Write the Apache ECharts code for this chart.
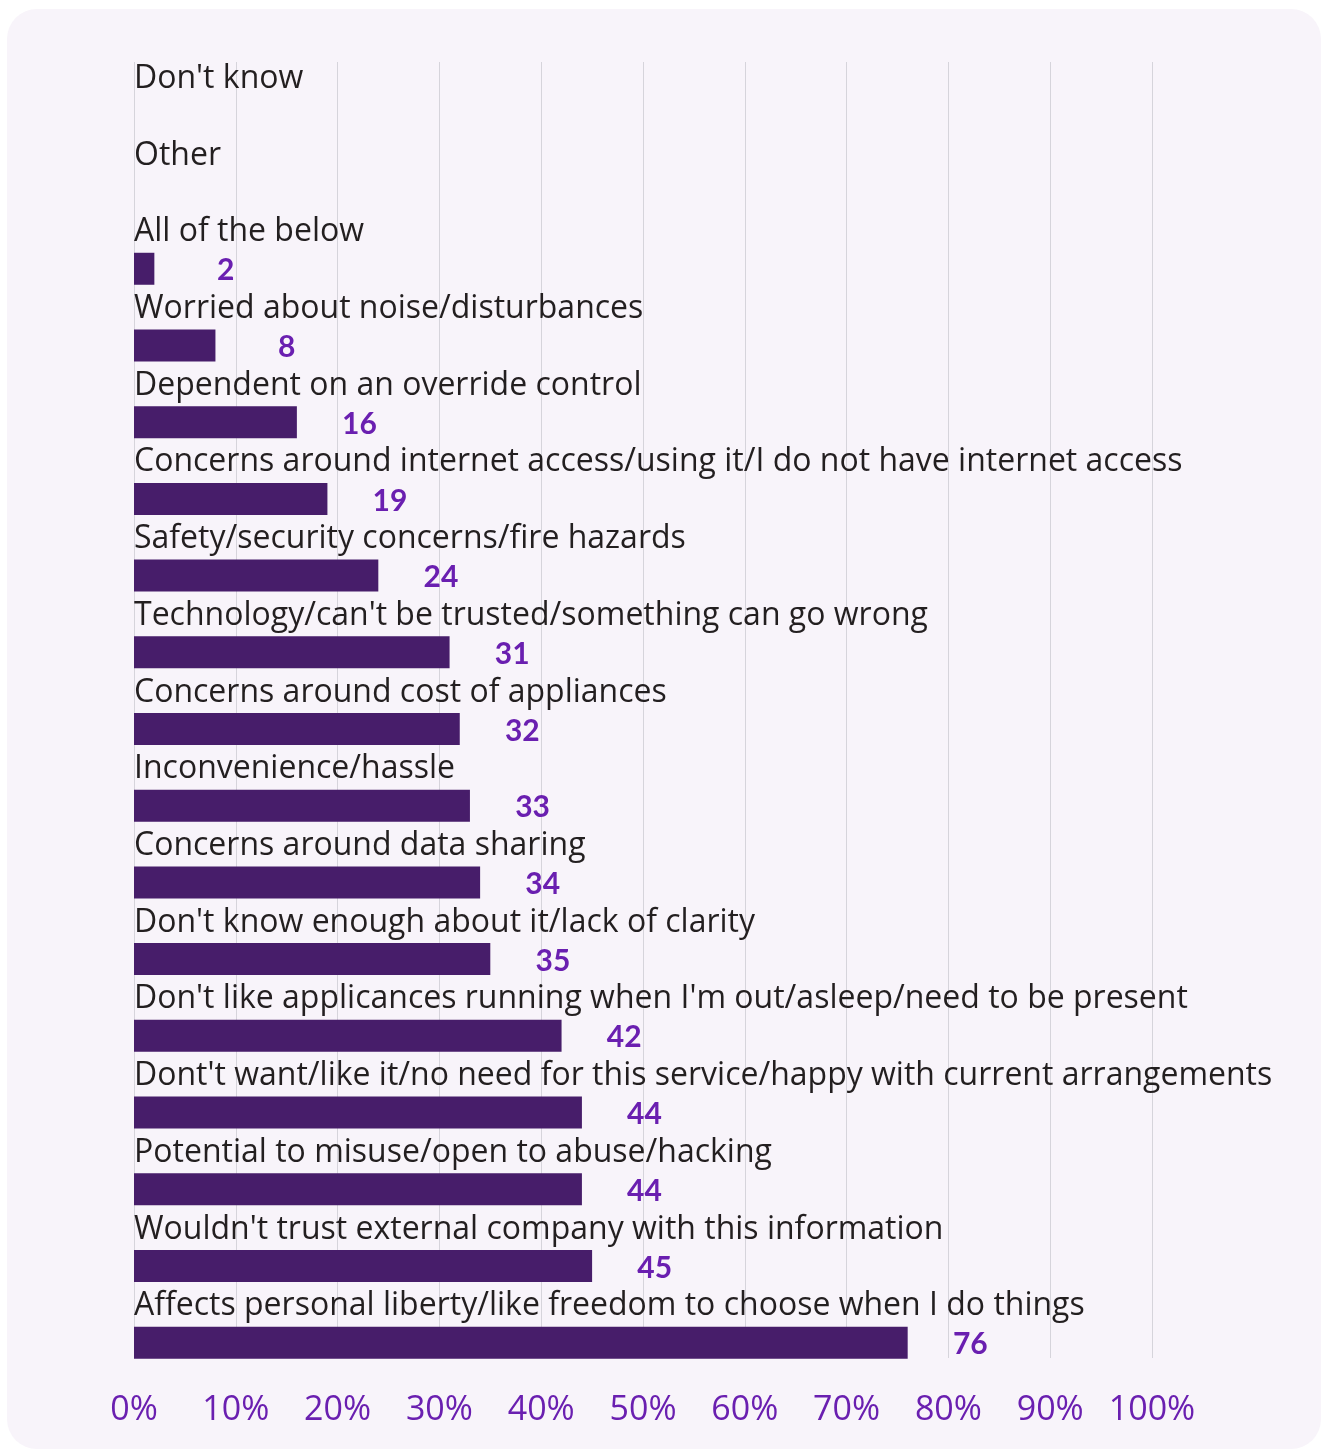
<!DOCTYPE html>
<html>
<head>
<meta charset="utf-8">
<script src="https://cdn.jsdelivr.net/npm/echarts@6/dist/echarts.min.js"></script>
<style>
  html, body { margin: 0; padding: 0; background: #ffffff; }
  #chart { width: 1321px; height: 1450px; }
</style>
</head>
<body>
<div id="chart"></div>
<script>
// Reasons given, listed top to bottom
const categories = [
  "Don't know",
  "Other",
  "All of the below",
  "Worried about noise/disturbances",
  "Dependent on an override control",
  "Concerns around internet access/using it/I do not have internet access",
  "Safety/security concerns/fire hazards",
  "Technology/can't be trusted/something can go wrong",
  "Concerns around cost of appliances",
  "Inconvenience/hassle",
  "Concerns around data sharing",
  "Don't know enough about it/lack of clarity",
  "Don't like applicances running when I'm out/asleep/need to be present",
  "Dont't want/like it/no need for this service/happy with current arrangements",
  "Potential to misuse/open to abuse/hacking",
  "Wouldn't trust external company with this information",
  "Affects personal liberty/like freedom to choose when I do things"
];

// Share of respondents (%), same order as categories
const values = [null, null, 2, 8, 16, 19, 24, 31, 32, 33, 34, 35, 42, 44, 44, 45, 76];

// Percentage axis ticks
const xMin = 0;
const xMax = 100;
const xStep = 10;

const chart = echarts.init(document.getElementById('chart'), null, { renderer: 'canvas' });

const FONT = '"Open Sans", sans-serif';
const PURPLE = '#6a1fb0';
const BAR = '#471d6a';

chart.setOption({
  animation: false,
  backgroundColor: '#ffffff',
  graphic: [{
    type: 'rect',
    z: -10,
    shape: { x: 7, y: 9, width: 1314, height: 1440, r: 30 },
    style: { fill: '#f8f4fa' },
    silent: true
  }],
  grid: [
    // gridlines and tick labels
    { left: 134, top: 62, width: 1018, height: 1296, containLabel: false },
    // bars with their category names
    { left: 134, top: 77, width: 1018, height: 1304, containLabel: false }
  ],
  xAxis: [
    {
      gridIndex: 0, type: 'value', min: xMin, max: xMax, interval: xStep,
      axisLine: { show: false }, axisTick: { show: false },
      splitLine: { show: true, lineStyle: { color: '#d6d4db', width: 1 } },
      axisLabel: {
        formatter: '{value}%', color: PURPLE, fontFamily: FONT,
        fontSize: 34, margin: 35
      }
    },
    {
      gridIndex: 1, type: 'value', min: xMin, max: xMax, interval: xStep,
      show: false
    }
  ],
  yAxis: [
    {
      gridIndex: 0, type: 'category', data: categories, inverse: true, show: false
    },
    {
      gridIndex: 1, type: 'category', data: categories, inverse: true,
      axisLine: { show: false }, axisTick: { show: false }, splitLine: { show: false },
      axisLabel: {
        inside: true, align: 'left', verticalAlign: 'middle', margin: 0,
        interval: 0, showMinLabel: true, showMaxLabel: true, hideOverlap: false,
        color: '#231f20', fontFamily: FONT, fontSize: 32,
        lineHeight: 73,
        // second empty line lifts the name above its bar
        formatter: v => v + '\n '
      },
      z: 5
    }
  ],
  series: [{
    type: 'bar',
    xAxisIndex: 1,
    yAxisIndex: 1,
    data: values,
    barWidth: 32,
    itemStyle: { color: BAR },
    label: {
      show: true,
      position: 'right',
      distance: 80,
      align: 'right',
      offset: [0, 2],
      color: PURPLE,
      fontFamily: 'Lato, sans-serif',
      fontWeight: 'bold',
      fontSize: 30,
      formatter: p => (p.value == null ? '' : String(p.value))
    }
  }]
});
</script>
</body>
</html>
